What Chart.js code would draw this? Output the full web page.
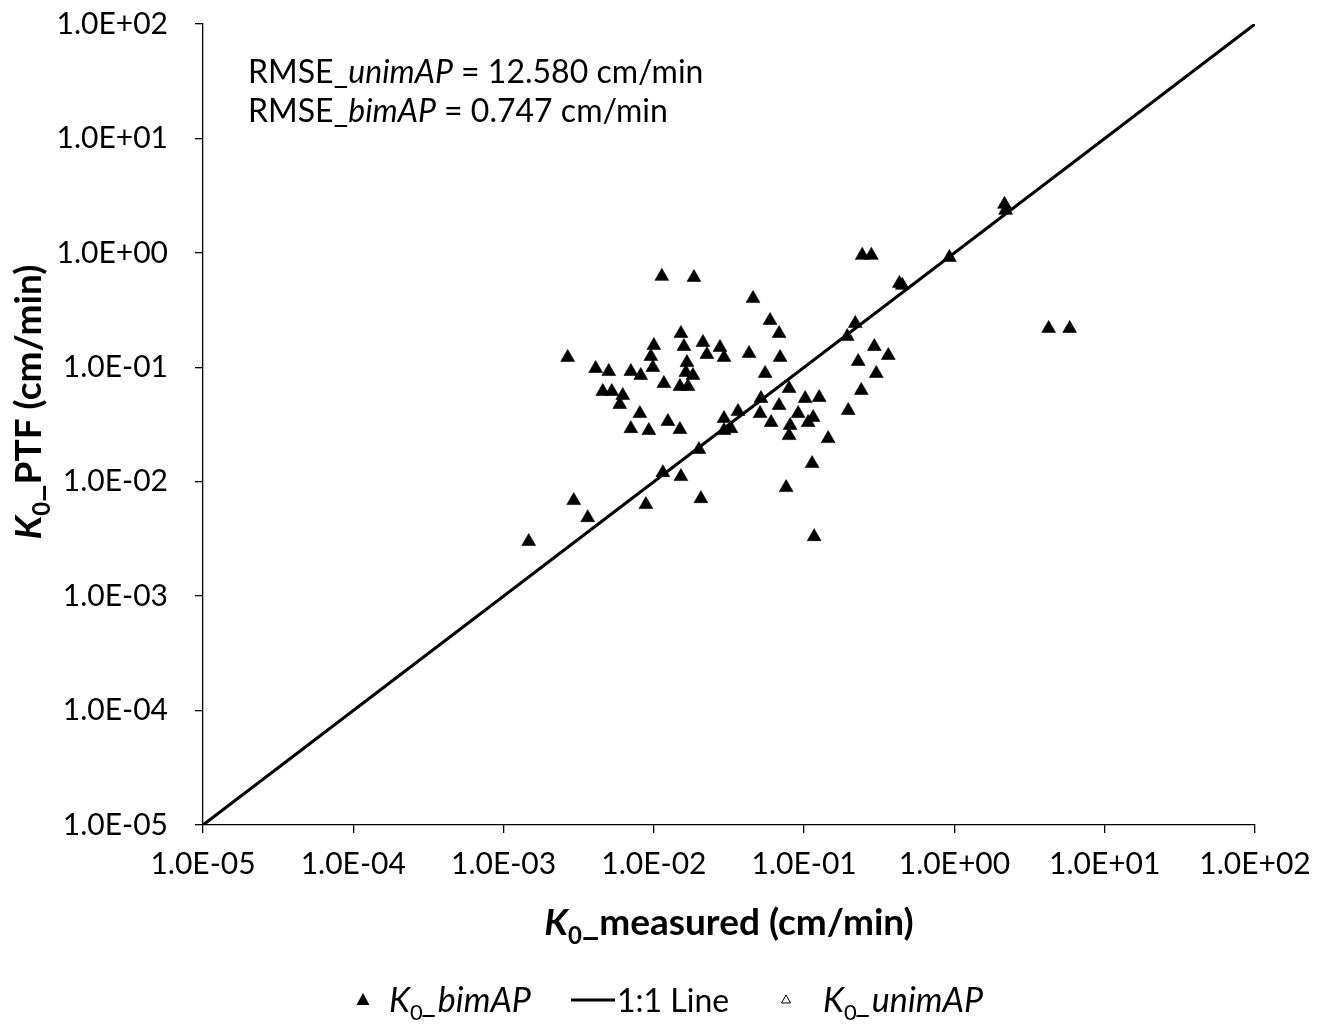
<!DOCTYPE html>
<html>
<head>
<meta charset="utf-8">
<script src="https://cdn.jsdelivr.net/npm/chart.js@4.4.1/dist/chart.umd.min.js"></script>
<style>
  html, body { margin: 0; padding: 0; background: #ffffff; }
  #wrap { width: 1319px; height: 1033px; }
</style>
</head>
<body>
<div id="wrap"><canvas id="chart" width="1319" height="1033"></canvas></div>
<script>
// Saturated hydraulic conductivity K0: measured vs. pedotransfer estimate (cm/min)
const bimMeasured = [
  0.00147, 0.00267, 0.00293, 0.00363, 0.0041, 0.00457, 0.00501, 0.00525, 0.00593, 0.00621,
  0.00703, 0.00703, 0.00807, 0.00818, 0.00885, 0.00926, 0.00955, 0.0100, 0.00985, 0.0113,
  0.01148, 0.01166, 0.0124, 0.01514, 0.01514, 0.01491, 0.01491, 0.01585, 0.0166, 0.01633,
  0.01686, 0.0182, 0.01848, 0.01995, 0.02056, 0.02122, 0.02254, 0.02754, 0.0293, 0.0293,
  0.0293, 0.0326, 0.0363, 0.0430, 0.0457, 0.0509, 0.0516, 0.0550, 0.0593, 0.0603,
  0.0681, 0.0681, 0.0692, 0.0759, 0.0794, 0.0794, 0.0807, 0.0912, 0.1016, 0.1063,
  0.1148, 0.1130, 0.1166, 0.1259, 0.1445, 0.1936, 0.1965, 0.2188, 0.229, 0.240,
  0.2436, 0.280, 0.293, 0.302, 0.363, 0.430, 0.450, 0.926, 2.154, 2.188,
  4.236, 5.845
];
const bimPTF = [
  0.0030, 0.122, 0.00684, 0.00485, 0.0976, 0.0614, 0.0919, 0.0614, 0.0473, 0.0567,
  0.0919, 0.0291, 0.0394, 0.0848, 0.00631, 0.0280, 0.1243, 0.155, 0.0996, 0.623,
  0.0120, 0.0722, 0.0336, 0.01108, 0.1975, 0.02856, 0.0679, 0.152, 0.110, 0.090,
  0.0679, 0.0848, 0.610, 0.0191, 0.00711, 0.165, 0.1294, 0.149, 0.122, 0.03565,
  0.0280, 0.0291, 0.0411, 0.132, 0.400, 0.0394, 0.0533, 0.0883, 0.2567, 0.0329,
  0.1975, 0.0463, 0.122, 0.00888, 0.0653, 0.0253, 0.0310, 0.0394, 0.0533, 0.0329,
  0.0364, 0.0144, 0.00331, 0.0544, 0.0238, 0.186, 0.0419, 0.2416, 0.1124, 0.0627,
  0.951, 0.951, 0.152, 0.0883, 0.1268, 0.541, 0.520, 0.913, 2.657, 2.354,
  0.2185, 0.2185
];
const unimMeasured = [];
const unimPTF = [];
const oneToOne = [1e-5, 1e2];
const tickValues = [1e-5, 1e-4, 1e-3, 1e-2, 1e-1, 1e0, 1e1, 1e2];
const tickLabels = ['1.0E-05', '1.0E-04', '1.0E-03', '1.0E-02', '1.0E-01', '1.0E+00', '1.0E+01', '1.0E+02'];

const FAM = 'Lato, "Open Sans", "DejaVu Sans", sans-serif';

function fixedTicks(scale) {
  scale.ticks = tickValues.map(v => ({ value: v }));
}
function tickText(value) {
  const i = tickValues.findIndex(v => Math.abs(Math.log10(v) - Math.log10(value)) < 1e-6);
  return i >= 0 ? tickLabels[i] : '';
}

// draw a run of differently styled pieces on one baseline
function partsWidth(ctx, parts) {
  let w = 0;
  for (const p of parts) { ctx.font = p.font; w += ctx.measureText(p.text).width; }
  return w;
}
function drawParts(ctx, parts, x, y) {
  for (const p of parts) {
    ctx.font = p.font;
    ctx.fillText(p.text, x, y + (p.dy || 0));
    x += ctx.measureText(p.text).width;
  }
}

const textPlugin = {
  id: 'chartText',
  afterDraw(chart) {
    const ctx = chart.ctx;
    ctx.save();
    ctx.fillStyle = '#000';
    ctx.textBaseline = 'alphabetic';
    ctx.textAlign = 'left';

    // statistics box
    const reg = '32px ' + FAM, ita = 'italic 32px ' + FAM;
    drawParts(ctx, [{ text: 'RMSE_', font: reg }, { text: 'unimAP', font: ita }, { text: ' = 12.580 cm/min', font: reg }], 248, 83);
    drawParts(ctx, [{ text: 'RMSE_', font: reg }, { text: 'bimAP', font: ita }, { text: ' = 0.747 cm/min', font: reg }], 248, 122);

    // x axis title
    const bI = 'italic bold 37px ' + FAM, b = 'bold 37px ' + FAM, bs = 'bold 24px ' + FAM;
    const xt = [{ text: 'K', font: bI }, { text: '0', font: bs, dy: 9 }, { text: '_measured (cm/min)', font: b }];
    const area = chart.chartArea;
    const xw = partsWidth(ctx, xt);
    drawParts(ctx, xt, (area.left + area.right) / 2 - xw / 2, 935);

    // y axis title (rotated)
    const yt = [{ text: 'K', font: bI }, { text: '0', font: bs, dy: 9 }, { text: '_PTF (cm/min)', font: b }];
    const yw = partsWidth(ctx, yt);
    ctx.save();
    ctx.translate(41, 402);
    ctx.rotate(-Math.PI / 2);
    drawParts(ctx, yt, -yw / 2, 0);
    ctx.restore();

    // legend
    const lI = 'italic 34px ' + FAM, ls = '22px ' + FAM, lr = '32px ' + FAM;
    const ly = 1000;
    ctx.beginPath();
    ctx.moveTo(363, ly - 7); ctx.lineTo(369.5, ly + 5); ctx.lineTo(356.5, ly + 5); ctx.closePath();
    ctx.fill();
    drawParts(ctx, [{ text: 'K', font: lI }, { text: '0', font: ls, dy: 8 }, { text: '_bimAP', font: lI }], 389, ly + 12);
    ctx.lineWidth = 3;
    ctx.strokeStyle = '#000';
    ctx.beginPath(); ctx.moveTo(571, ly); ctx.lineTo(615, ly); ctx.stroke();
    drawParts(ctx, [{ text: '1:1 Line', font: lr }], 617, ly + 12);
    ctx.lineWidth = 1;
    ctx.beginPath();
    ctx.moveTo(786, ly - 5); ctx.lineTo(790.5, ly + 3); ctx.lineTo(781.5, ly + 3); ctx.closePath();
    ctx.stroke();
    drawParts(ctx, [{ text: 'K', font: lI }, { text: '0', font: ls, dy: 8 }, { text: '_unimAP', font: lI }], 823, ly + 12);
    ctx.restore();
  }
};

const axisCommon = {
  type: 'logarithmic',
  min: 1e-5,
  max: 1e2,
  afterBuildTicks: fixedTicks,
  border: { display: true, color: '#000', width: 1.3 },
  grid: { display: true, drawOnChartArea: false, drawTicks: true, tickLength: 8, color: '#000', lineWidth: 1.3 },
};

new Chart(document.getElementById('chart'), {
  type: 'scatter',
  data: {
    datasets: [
      {
        label: 'K0_bimAP',
        data: bimMeasured.map((x, i) => ({ x: x, y: bimPTF[i] })),
        pointStyle: 'triangle',
        pointRadius: 8,
        backgroundColor: '#000',
        borderColor: '#000',
        borderWidth: 0.6,
        order: 1
      },
      {
        label: '1:1 Line',
        data: oneToOne.map(v => ({ x: v, y: v })),
        showLine: true,
        borderColor: '#000',
        borderWidth: 3,
        pointRadius: 0,
        order: 2
      },
      {
        label: 'K0_unimAP',
        data: unimMeasured.map((x, i) => ({ x: x, y: unimPTF[i] })),
        pointStyle: 'triangle',
        pointRadius: 5,
        backgroundColor: '#fff',
        borderColor: '#000',
        borderWidth: 1,
        order: 0
      }
    ]
  },
  options: {
    responsive: false,
    animation: false,
    events: [],
    layout: { padding: { top: 24, right: 64, left: 0, bottom: 0 } },
    plugins: { legend: { display: false }, tooltip: { enabled: false } },
    scales: {
      x: Object.assign({}, axisCommon, {
        position: 'bottom',
        afterFit(scale) { scale.height = 208; scale.paddingLeft = 0; scale.paddingRight = 0; },
        ticks: { color: '#000', font: { family: FAM, size: 30 }, padding: 13, maxRotation: 0, autoSkip: false, callback: tickText }
      }),
      y: Object.assign({}, axisCommon, {
        position: 'left',
        afterFit(scale) { scale.width = 203; scale.paddingTop = 0; scale.paddingBottom = 0; },
        ticks: { color: '#000', font: { family: FAM, size: 30 }, padding: 27, autoSkip: false, callback: tickText }
      })
    }
  },
  plugins: [textPlugin]
});
</script>
</body>
</html>
